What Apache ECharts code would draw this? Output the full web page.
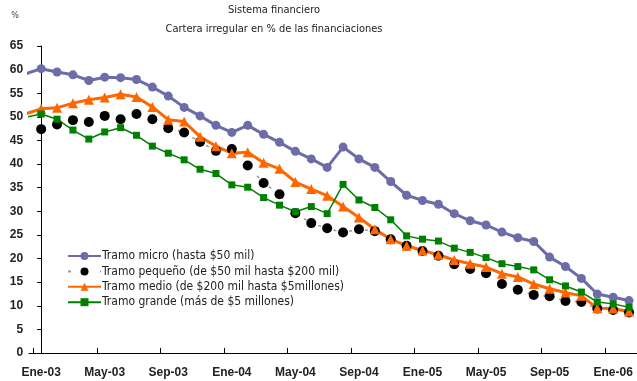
<!DOCTYPE html>
<html>
<head>
<meta charset="utf-8">
<script src="https://cdn.jsdelivr.net/npm/echarts@6/dist/echarts.min.js"></script>
<style>
  html, body { margin: 0; padding: 0; background: #fff; }
  #chart { width: 637px; height: 381px; }
</style>
</head>
<body>
<div id="chart"></div>
<script>
// Monthly periods (Dic-02 is only partly shown at the left edge)
const months = [
  'Dic-02',
  'Ene-03','Feb-03','Mar-03','Abr-03','May-03','Jun-03','Jul-03','Ago-03','Sep-03','Oct-03','Nov-03','Dic-03',
  'Ene-04','Feb-04','Mar-04','Abr-04','May-04','Jun-04','Jul-04','Ago-04','Sep-04','Oct-04','Nov-04','Dic-04',
  'Ene-05','Feb-05','Mar-05','Abr-05','May-05','Jun-05','Jul-05','Ago-05','Sep-05','Oct-05','Nov-05','Dic-05',
  'Ene-06','Feb-06'
];

// Axis tick labels (every fourth month)
const tickLabels = ['Ene-03','May-03','Sep-03','Ene-04','May-04','Sep-04','Ene-05','May-05','Sep-05','Ene-06'];

// Irregular portfolio, % of financing, by loan size band
const micro = [59.1,
  60.2, 59.5, 58.9, 57.7, 58.4, 58.3, 57.9, 56.3, 54.4, 52.0, 50.2, 48.2,
  46.7, 48.2, 46.3, 44.6, 42.7, 41.1, 39.3, 43.6, 41.1, 39.3, 36.3, 33.4,
  32.3, 31.5, 29.5, 28.0, 27.1, 25.6, 24.4, 23.6, 20.3, 18.3, 15.8, 12.5,
  11.8, 11.1];
const pequeno = [null,
  47.4, 48.4, 49.3, 48.9, 50.2, 49.5, 50.6, 49.5, 47.6, 46.7, 44.7, 42.8,
  43.2, 39.7, 36.0, 33.6, 29.6, 27.5, 26.4, 25.5, 26.2, 25.8, 24.1, 22.7,
  21.6, 20.6, 18.8, 17.8, 16.9, 14.6, 13.4, 12.3, 12.0, 11.0, 10.8, 9.4,
  9.1, 8.6];
const medio = [50.6,
  51.7, 51.9, 52.9, 53.6, 54.1, 54.8, 54.2, 52.1, 49.4, 49.0, 45.8, 43.8,
  42.3, 42.5, 40.3, 39.0, 36.2, 34.7, 33.3, 31.0, 28.7, 26.2, 24.1, 22.7,
  21.7, 20.8, 19.7, 18.9, 18.2, 16.8, 16.1, 14.6, 13.6, 12.8, 12.1, 9.5,
  9.4, 8.8];
const grande = [49.9,
  50.6, 49.5, 47.2, 45.3, 46.8, 47.7, 46.1, 43.8, 42.3, 40.9, 38.9, 38.0,
  35.6, 35.1, 32.9, 31.3, 29.9, 31.0, 29.5, 35.7, 32.4, 30.8, 28.2, 24.8,
  24.1, 23.7, 22.2, 21.3, 20.2, 18.9, 18.3, 17.6, 15.5, 14.2, 12.9, 10.8,
  10.4, 9.7];

const seriesNames = [
  'Tramo micro (hasta $50 mil)',
  'Tramo pequeño (de $50 mil hasta $200 mil)',
  'Tramo medio (de $200 mil hasta $5millones)',
  'Tramo grande (más de $5 millones)'
];

// x position of a month: Ene-03 = 0, one unit per month
const xOf = (k) => k - 1;
const toPoints = (arr) => arr.map((v, k) => [xOf(k), v]);

const labelPos = tickLabels.map((t) => xOf(months.indexOf(t)));
const tickPos = labelPos.map((p) => p - 0.5);

const narrow = "'DejaVu Sans Condensed', 'Liberation Sans', sans-serif";
const axisFont = "'Liberation Sans', Arial, sans-serif";

const chart = echarts.init(document.getElementById('chart'), null, { renderer: 'canvas' });

chart.setOption({
  animation: false,
  backgroundColor: '#fff',
  title: {
    text: 'Sistema financiero',
    subtext: 'Cartera irregular en % de las financiaciones',
    left: 274,
    top: 5,
    padding: 0,
    textAlign: 'center',
    itemGap: 8,
    textStyle: { fontFamily: narrow, fontSize: 11, fontWeight: 'normal', color: '#222' },
    subtextStyle: { fontFamily: narrow, fontSize: 11, color: '#222' }
  },
  legend: {
    orient: 'vertical',
    left: 67,
    top: 248.5,
    padding: 0,
    itemWidth: 33,
    itemHeight: 10,
    itemGap: 0.4,
    selectedMode: false,
    textStyle: { fontFamily: narrow, fontSize: 12, lineHeight: 15, color: '#222', padding: [0, 0, 0, -4] },
    data: seriesNames
  },
  grid: { left: 29, right: 0, top: 46, bottom: 28 },
  xAxis: {
    type: 'value',
    min: -0.765,
    max: 37.5,
    splitLine: { show: false },
    axisLine: { show: true, lineStyle: { color: '#000', width: 1 } },
    axisTick: { show: true, inside: true, length: 5, customValues: tickPos, lineStyle: { color: '#000' } },
    axisLabel: {
      customValues: labelPos,
      formatter: (v) => months[Math.round(v) + 1],
      margin: 14,
      fontFamily: axisFont,
      fontWeight: 'bold',
      fontSize: 12,
      color: '#222'
    }
  },
  yAxis: {
    type: 'value',
    min: 0,
    max: 65,
    interval: 5,
    offset: -4.2,
    name: '%',
    nameLocation: 'end',
    nameGap: 26,
    nameTextStyle: { fontFamily: narrow, fontSize: 9, color: '#444', padding: [0, 52, 0, 0] },
    splitLine: { show: false },
    axisLine: { show: true, lineStyle: { color: '#000', width: 1 } },
    axisTick: { show: true, length: 4, lineStyle: { color: '#000' } },
    axisLabel: { margin: 10, fontFamily: axisFont, fontWeight: 'bold', fontSize: 12, color: '#222' }
  },
  series: [
    {
      name: seriesNames[0],
      type: 'line',
      data: toPoints(micro),
      symbol: 'circle',
      symbolSize: 9,
      lineStyle: { color: '#6C6CA8', width: 3 },
      itemStyle: { color: '#6C6CA8' },
      emphasis: { disabled: true }
    },
    {
      name: seriesNames[1],
      type: 'line',
      data: toPoints(pequeno),
      symbol: 'circle',
      symbolSize: 10,
      lineStyle: { color: '#999', width: 1.5, type: [3, 13] },
      itemStyle: { color: '#000' },
      emphasis: { disabled: true }
    },
    {
      name: seriesNames[2],
      type: 'line',
      data: toPoints(medio),
      symbol: 'triangle',
      symbolSize: 10,
      lineStyle: { color: '#FF6600', width: 3 },
      itemStyle: { color: '#FF6600' },
      emphasis: { disabled: true }
    },
    {
      name: seriesNames[3],
      type: 'line',
      data: toPoints(grande),
      symbol: 'rect',
      symbolSize: 7,
      lineStyle: { color: '#008000', width: 1.5 },
      itemStyle: { color: '#008000' },
      emphasis: { disabled: true }
    }
  ]
});
</script>
</body>
</html>
